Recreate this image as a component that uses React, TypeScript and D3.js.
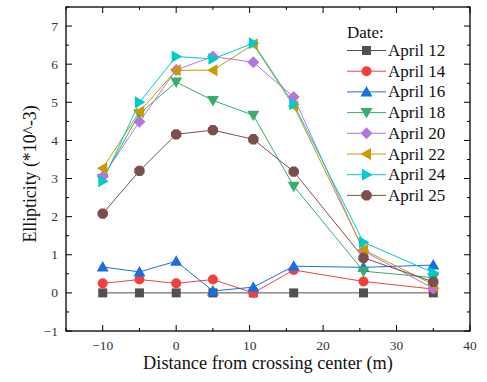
import React from "react";
import * as d3 from "d3";

const distances = [-10, -5, 0, 5, 10.5, 16, 25.5, 35];
const seriesNames = ["April 12", "April 14", "April 16", "April 18", "April 20", "April 22", "April 24", "April 25"];
const april12 = [0, 0, 0, 0, 0, 0, 0, 0];
const april14 = [0.25, 0.35, 0.25, 0.35, 0.0, 0.6, 0.3, 0.1];
const april16 = [0.68, 0.55, 0.83, 0.05, 0.15, 0.7, 0.67, 0.73];
const april18 = [3.0, 4.7, 5.53, 5.05, 4.66, 2.8, 0.57, 0.4];
const april20 = [3.05, 4.49, 5.85, 6.2, 6.05, 5.14, 1.1, 0.12];
const april22 = [3.27, 4.75, 5.84, 5.84, 6.52, 4.9, 1.13, 0.22];
const april24 = [2.93, 5.0, 6.2, 6.14, 6.55, 4.95, 1.33, 0.53];
const april25 = [2.08, 3.2, 4.16, 4.27, 4.03, 3.18, 0.92, 0.29];
const colors = ["#515151", "#F14040", "#1A6FDF", "#37AD6B", "#B177DE", "#CC9900", "#00CBCC", "#7D4E4E"];
const xTicks = [-10, 0, 10, 20, 30, 40];
const yTicks = [-1, 0, 1, 2, 3, 4, 5, 6, 7];

const allSeries = [april12, april14, april16, april18, april20, april22, april24, april25];

const W = 487, H = 382;
const left = 66, right = 470, top = 7, bottom = 331;

function Marker({ kind, x, y, color }: { kind: number; x: number; y: number; color: string }) {
  switch (kind) {
    case 0:
      return <rect x={x - 4.5} y={y - 4.5} width={9} height={9} fill={color} />;
    case 1:
      return <circle cx={x} cy={y} r={5} fill={color} />;
    case 2:
      return <path d={`M${x},${y - 6}L${x + 6},${y + 4.5}L${x - 6},${y + 4.5}Z`} fill={color} />;
    case 3:
      return <path d={`M${x},${y + 6}L${x + 6},${y - 4.5}L${x - 6},${y - 4.5}Z`} fill={color} />;
    case 4:
      return <path d={`M${x},${y - 6}L${x + 6},${y}L${x},${y + 6}L${x - 6},${y}Z`} fill={color} />;
    case 5:
      return <path d={`M${x - 6},${y}L${x + 4.5},${y - 6}L${x + 4.5},${y + 6}Z`} fill={color} />;
    case 6:
      return <path d={`M${x + 6},${y}L${x - 4.5},${y - 6}L${x - 4.5},${y + 6}Z`} fill={color} />;
    default: {
      const pts = d3.range(8).map((i) => {
        const a = (Math.PI / 4) * i + Math.PI / 8;
        return [x + 5.6 * Math.cos(a), y + 5.6 * Math.sin(a)];
      });
      return <path d={"M" + pts.map((p) => p.join(",")).join("L") + "Z"} fill={color} />;
    }
  }
}

export default function App() {
  const xs = d3.scaleLinear().domain([-15, 40]).range([left, right]);
  const ys = d3.scaleLinear().domain([-1, 7.5]).range([bottom, top]);
  const line = d3
    .line<number>()
    .x((_, i) => xs(distances[i]))
    .y((d) => ys(d));
  const xMinor = d3.range(-15, 40.01, 5);
  const yMinor = d3.range(-1, 7.51, 0.5);
  const font = "Liberation Serif, Times New Roman, serif";
  const legX = 347, legY0 = 50.5, legDy = 20.7;

  return (
    <svg width={W} height={H} style={{ position: "absolute", left: 0, top: 0, background: "#fff", fontFamily: font }}>
      {xMinor.map((v) => {
        const major = xTicks.includes(v);
        const l = major ? 6 : 3;
        return (
          <g key={"xt" + v} stroke="#000" strokeWidth={1}>
            <line x1={xs(v)} x2={xs(v)} y1={bottom} y2={bottom - l} />
            <line x1={xs(v)} x2={xs(v)} y1={top} y2={top + l} />
          </g>
        );
      })}
      {yMinor.map((v) => {
        const major = Number.isInteger(v);
        const l = major ? 6 : 3;
        return (
          <g key={"yt" + v} stroke="#000" strokeWidth={1}>
            <line x1={left} x2={left + l} y1={ys(v)} y2={ys(v)} />
            <line x1={right} x2={right - l} y1={ys(v)} y2={ys(v)} />
          </g>
        );
      })}
      {allSeries.map((s, si) => (
        <path key={"l" + si} d={line(s) || ""} fill="none" stroke={colors[si]} strokeWidth={1} />
      ))}
      {allSeries.map((s, si) =>
        s.map((v, i) => <Marker key={"m" + si + "-" + i} kind={si} x={xs(distances[i])} y={ys(v)} color={colors[si]} />)
      )}
      <rect x={left} y={top} width={right - left} height={bottom - top} fill="none" stroke="#000" strokeWidth={1.3} />
      {xTicks.map((v) => (
        <text key={"xl" + v} x={xs(v)} y={350} textAnchor="middle" fontSize={13.5} fill="#333" style={{ fontFamily: font }}>
          {v < 0 ? "\u2212" + Math.abs(v) : v}
        </text>
      ))}
      {yTicks.map((v) => (
        <text key={"yl" + v} x={58} y={ys(v) + 4.5} textAnchor="end" fontSize={13.5} fill="#333" style={{ fontFamily: font }}>
          {v < 0 ? "\u2212" + Math.abs(v) : v}
        </text>
      ))}
      <text x={268} y={369} textAnchor="middle" fontSize={18.3} fill="#111" style={{ fontFamily: font }}>
        Distance from crossing center (m)
      </text>
      <text transform={`translate(36,174) rotate(-90)`} textAnchor="middle" fontSize={17.8} fill="#111" style={{ fontFamily: font }}>
        Ellipticity (*10^-3)
      </text>
      <text x={legX} y={38} fontSize={17} fill="#111" style={{ fontFamily: font }}>Date:</text>
      {seriesNames.map((n, i) => {
        const y = legY0 + i * legDy;
        return (
          <g key={"lg" + i}>
            <line x1={legX} x2={386} y1={y} y2={y} stroke={colors[i]} strokeWidth={1} />
            <Marker kind={i} x={366.5} y={y} color={colors[i]} />
            <text x={388} y={y + 5.5} fontSize={17} fill="#111" style={{ fontFamily: font }}>{n}</text>
          </g>
        );
      })}
    </svg>
  );
}
